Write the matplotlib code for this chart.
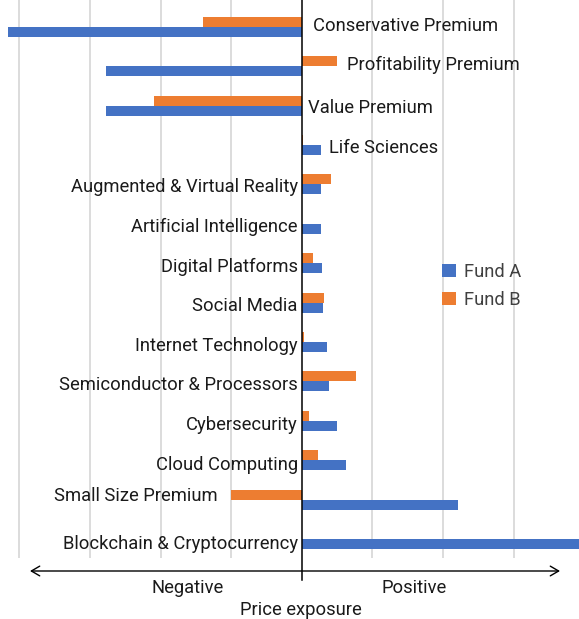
import matplotlib
matplotlib.use("Agg")
import matplotlib.pyplot as plt
from matplotlib.patches import Patch

plt.rcParams['font.family'] = ['Roboto', 'DejaVu Sans']

categories = [
    "Conservative Premium", "Profitability Premium", "Value Premium",
    "Life Sciences", "Augmented & Virtual Reality", "Artificial Intelligence",
    "Digital Platforms", "Social Media", "Internet Technology",
    "Semiconductor & Processors", "Cybersecurity", "Cloud Computing",
    "Small Size Premium", "Blockchain & Cryptocurrency",
]
fund_a = [-4.16, -2.77, -2.77, 0.27, 0.27, 0.28, 0.29, 0.30, 0.36, 0.38, 0.50, 0.63, 2.21, 4.10]
fund_b = [-1.40, 0.50, -2.09, 0.02, 0.41, 0.01, 0.16, 0.32, 0.03, 0.77, 0.10, 0.23, -1.00, 0.0]
series_names = ["Fund A", "Fund B"]
axis_words = ["Negative", "Positive"]
axis_title = "Price exposure"

# label placement styling: (anchor, align, dx_px, dy_px)
label_style = [
    ("zero", "left", 11, -1), ("b", "left", 10, -1.5), ("zero", "left", 6, 2),
    ("a", "left", 8, 2.7), ("zero", "right", -4, 2.6), ("zero", "right", -4, 3.5),
    ("zero", "right", -4, 3.8), ("zero", "right", -4, 3.4), ("zero", "right", -4, 4),
    ("zero", "right", -4, 3.6), ("zero", "right", -4, 4), ("zero", "right", -4, 4.6),
    ("b", "right", -13, -3.6), ("zero", "right", -4, 5.5),
]

COL_A = "#4472C4"
COL_B = "#ED7D31"
FS = 13.2
W, H = 579, 619
fig = plt.figure(figsize=(W / 100, H / 100), dpi=100)

# axes: spans x 0..579 px, y 0..558 px (from top)
ax = fig.add_axes([0, 1 - 558 / H, 1, 558 / H])
n = len(categories)
pos = list(range(n))
bh = 0.254
ax.barh([p + bh / 2 for p in pos], fund_a, height=bh, color=COL_A, zorder=3)
ax.barh([p - bh / 2 for p in pos], fund_b, height=bh, color=COL_B, zorder=3)

x0_px = 301.7
scale = 70.6
ax.set_xlim(-x0_px / scale, (W - x0_px) / scale)
top_i = -26.8 / 39.4
bot_i = (558 - 26.8) / 39.4
ax.set_ylim(bot_i, top_i)

for g in [-4, -3, -2, -1, 1, 2, 3]:
    ax.axvline(g, color="#d9d9d9", lw=1.3, zorder=1)
for s in ax.spines.values():
    s.set_visible(False)
ax.set_xticks([])
ax.set_yticks([])
ax.patch.set_alpha(0)

# zero axis line extending below the plot
y_bottom_line = (580 - 26.8) / 39.4
ax.plot([0, 0], [top_i, y_bottom_line], color="black", lw=1.1, zorder=4, clip_on=False)

for i, (cat, (anchor, align, dx, dy)) in enumerate(zip(categories, label_style)):
    if anchor == "zero":
        xa = 0
    elif anchor == "a":
        xa = fund_a[i]
    else:
        xa = fund_b[i]
    ax.annotate(cat, xy=(xa, i), xytext=(dx * 0.72, -dy * 0.72), textcoords="offset points",
                ha=align, va="center", fontsize=FS, color="#1a1a1a", zorder=5)

handles = [Patch(facecolor=COL_A), Patch(facecolor=COL_B)]
ax.legend(handles, series_names, loc="upper left", bbox_to_anchor=(442 / W, 1 - 263 / H),
          bbox_transform=fig.transFigure, frameon=False, fontsize=FS,
          handlelength=0.76, handleheight=0.76, handletextpad=0.45, labelspacing=0.55,
          borderpad=0, borderaxespad=0, labelcolor="#404040")

ax.annotate("", xy=(560, H - 571), xytext=(30, H - 571), xycoords="figure pixels",
            textcoords="figure pixels",
            arrowprops=dict(arrowstyle="<->,head_length=0.6,head_width=0.35", color="black", lw=1.0,
                            shrinkA=0, shrinkB=0))

fig.text(188 / W, 1 - 588 / H, axis_words[0], ha="center", va="center", fontsize=FS, color="#1a1a1a")
fig.text(414 / W, 1 - 588 / H, axis_words[1], ha="center", va="center", fontsize=FS, color="#1a1a1a")
fig.text(301 / W, 1 - 610 / H, axis_title, ha="center", va="center", fontsize=FS, color="#1a1a1a")

fig.savefig("out.png", dpi=100)
